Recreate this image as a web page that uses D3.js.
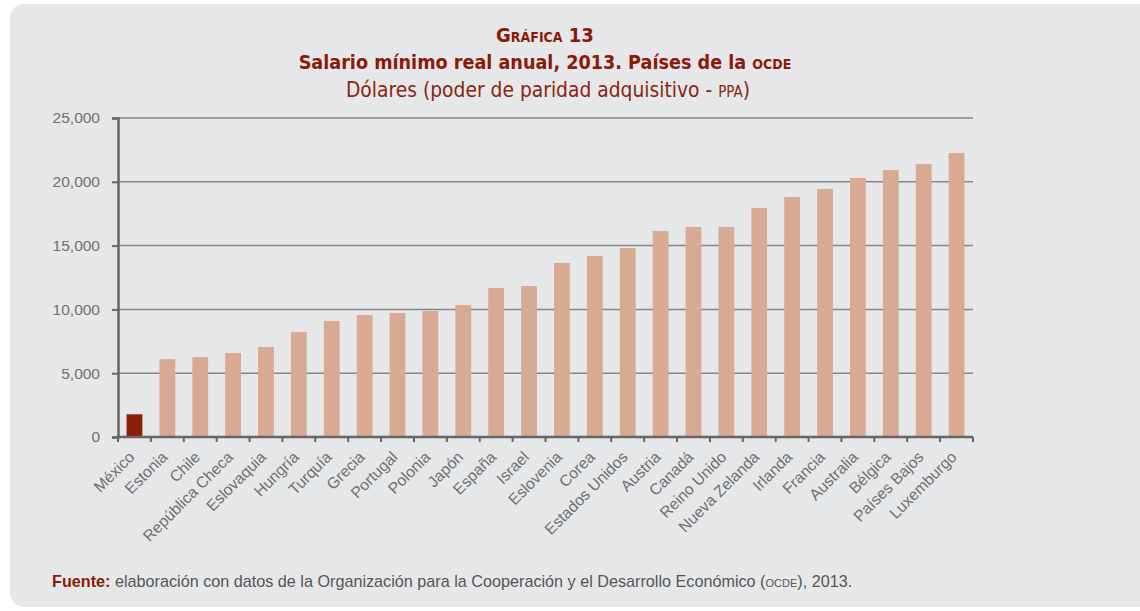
<!DOCTYPE html>
<html lang="es">
<head>
<meta charset="UTF-8">
<title>Salario mínimo real anual, 2013</title>
<script src="https://d3js.org/d3.v7.min.js"></script>
<style>
  body { margin: 0; background: #fff; }
  svg { display: block; }
</style>
</head>
<body>
<svg id="chart" width="1140" height="611"></svg>
<script>
const countries = ["México", "Estonia", "Chile", "República Checa", "Eslovaquia", "Hungría", "Turquía",
  "Grecia", "Portugal", "Polonia", "Japón", "España", "Israel", "Eslovenia", "Corea", "Estados Unidos",
  "Austria", "Canadá", "Reino Unido", "Nueva Zelanda", "Irlanda", "Francia", "Australia", "Bélgica",
  "Países Bajos", "Luxemburgo"];
const wages = [1780, 6100, 6260, 6580, 7050, 8230, 9090, 9560, 9720, 9870, 10340, 11680, 11830, 13640,
  14190, 14810, 16140, 16460, 16460, 17950, 18810, 19440, 20300, 20920, 21390, 22260];
const yTicks = [0, 5000, 10000, 15000, 20000, 25000];

const svg = d3.select("#chart");

// panel
svg.append("rect")
  .attr("x", 10).attr("y", 4)
  .attr("width", 1160).attr("height", 603)
  .attr("rx", 14)
  .attr("fill", "#e6e7e9");

const margin = { left: 118, right: 973, top: 118, bottom: 437 };

const x = d3.scaleBand().domain(countries).range([margin.left, margin.right]).paddingInner(0.52).paddingOuter(0.26);
const y = d3.scaleLinear().domain([0, 25000]).range([margin.bottom, margin.top]);

// gridlines
svg.append("g")
  .selectAll("line")
  .data(yTicks.slice(1))
  .join("line")
  .attr("x1", margin.left).attr("x2", margin.right)
  .attr("y1", d => y(d)).attr("y2", d => y(d))
  .attr("stroke", "#848587")
  .attr("stroke-width", 1.5);

// bars
svg.append("g")
  .selectAll("rect")
  .data(countries)
  .join("rect")
  .attr("x", d => x(d))
  .attr("y", (d, i) => y(wages[i]))
  .attr("width", x.bandwidth())
  .attr("height", (d, i) => y(0) - y(wages[i]))
  .attr("fill", (d, i) => i === 0 ? "#8c1d06" : "#d9aa93");

// y axis
const yAxis = svg.append("g")
  .attr("transform", `translate(${margin.left},0)`)
  .call(d3.axisLeft(y).tickValues(yTicks).tickFormat(d3.format(",")).tickSize(6).tickPadding(12));
yAxis.select(".domain").attr("stroke", "#666").attr("stroke-width", 2.5);
yAxis.selectAll(".tick line").attr("stroke", "#666").attr("stroke-width", 2);
yAxis.selectAll("text")
  .attr("fill", "#707070")
  .style("font-family", "'Liberation Sans', Arial, sans-serif")
  .style("font-size", "15.5px");

// x axis: ticks at band boundaries
const step = x.step();
const bounds = countries.map(c => x(c) - (step - x.bandwidth()) / 2).concat([margin.right]);
const xg = svg.append("g");
xg.append("line")
  .attr("x1", margin.left).attr("x2", margin.right)
  .attr("y1", y(0)).attr("y2", y(0))
  .attr("stroke", "#666").attr("stroke-width", 2.5);
xg.selectAll("line.tk")
  .data(bounds)
  .join("line")
  .attr("class", "tk")
  .attr("x1", d => d).attr("x2", d => d)
  .attr("y1", y(0)).attr("y2", y(0) + 5)
  .attr("stroke", "#666").attr("stroke-width", 2);

xg.selectAll("text")
  .data(countries)
  .join("text")
  .attr("transform", d => `translate(${x(d) + x.bandwidth() / 2 + 1},${y(0) + 21}) rotate(-45)`)
  .attr("text-anchor", "end")
  .attr("fill", "#707070")
  .style("font-family", "'Liberation Sans', Arial, sans-serif")
  .style("font-size", "15.7px")
  .text(d => d);

// titles
const titleFont = "'DejaVu Sans Condensed', 'Open Sans', sans-serif";
svg.append("text")
  .attr("x", 545).attr("y", 42)
  .attr("text-anchor", "middle")
  .attr("fill", "#8b1a08")
  .style("font-family", titleFont)
  .style("font-weight", "bold")
  .style("font-size", "20px")
  .style("font-variant", "small-caps")
  .text("Gráfica 13");

const t2 = svg.append("text")
  .attr("x", 545).attr("y", 69)
  .attr("text-anchor", "middle")
  .attr("fill", "#8b1a08")
  .style("font-family", titleFont)
  .style("font-weight", "bold")
  .style("font-size", "19.6px");
t2.append("tspan").text("Salario mínimo real  anual, 2013. Países de la ");
t2.append("tspan").style("font-variant", "all-small-caps").text("OCDE");

const t3 = svg.append("text")
  .attr("x", 548).attr("y", 97)
  .attr("text-anchor", "middle")
  .attr("fill", "#8b2412")
  .style("font-family", titleFont)
  .style("font-size", "20.8px");
t3.append("tspan").text("Dólares (poder de paridad adquisitivo - ");
t3.append("tspan").style("font-variant", "all-small-caps").text("PPA");
t3.append("tspan").text(")");

// source
const src = svg.append("text")
  .attr("x", 52).attr("y", 587)
  .attr("fill", "#555")
  .style("font-family", "'Liberation Sans', Arial, sans-serif")
  .style("font-size", "16.2px");
src.append("tspan").attr("fill", "#8b1a08").style("font-weight", "bold").text("Fuente:");
src.append("tspan").text(" elaboración con datos de la Organización para la Cooperación y el Desarrollo Económico (");
src.append("tspan").style("font-variant", "all-small-caps").text("OCDE");
src.append("tspan").text("), 2013.");
</script>
</body>
</html>
